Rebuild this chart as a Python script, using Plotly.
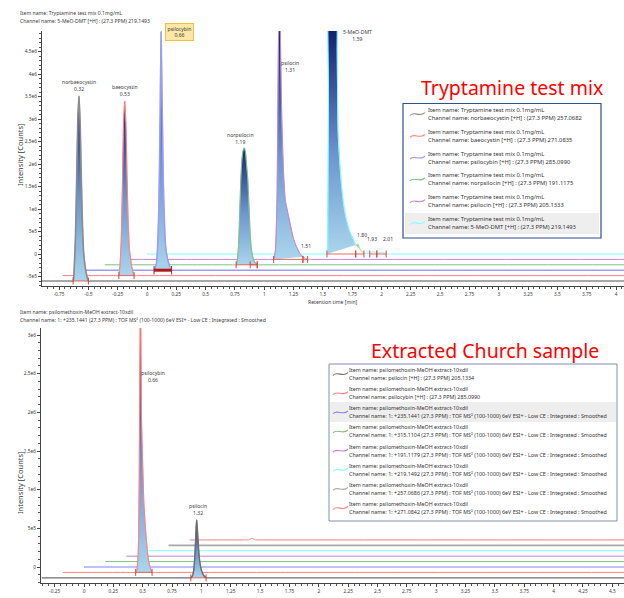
import plotly.graph_objects as go

W, H = 624, 598
FONT = "Noto Sans"
TXT = "#3a3a3a"

# ---------------- top panel data ----------------
top_item = "Item name: Tryptamine test mix 0.1mg/mL"
top_header_channel = "Channel name: 5-MeO-DMT [+H] : (27.3 PPM) 219.1493"
top_title = "Tryptamine test mix"
top_channels = [
    "Channel name: norbaeocystin [+H] : (27.3 PPM) 257.0682",
    "Channel name: baeocystin [+H] : (27.3 PPM) 271.0835",
    "Channel name: psilocybin [+H] : (27.3 PPM) 285.0990",
    "Channel name: norpsilocin [+H] : (27.3 PPM) 191.1175",
    "Channel name: psilocin [+H] : (27.3 PPM) 205.1333",
    "Channel name: 5-MeO-DMT [+H] : (27.3 PPM) 219.1493",
]
top_peak_names = ["norbaeocystin", "baeocystin", "psilocybin", "norpsilocin", "psilocin", "5-MeO-DMT"]
top_peak_rt = [0.32, 0.53, 0.66, 1.19, 1.31, 1.59]

norbaeocystin_t = [0, 0.24, 0.27, 0.28, 0.29, 0.30, 0.31, 0.32, 0.33, 0.34, 0.35, 0.36, 0.38, 0.40, 0.43, 5.0]
norbaeocystin_c = [0, 0, 0, 3.3e5, 1.0e6, 2.26e6, 3.6e6, 4.11e6, 3.5e6, 2.26e6, 1.23e6, 6.2e5, 2.0e5, 0, 0, 0]
baeocystin_t = [0, 0.45, 0.48, 0.49, 0.50, 0.51, 0.52, 0.53, 0.54, 0.55, 0.56, 0.57, 0.59, 0.61, 0.64, 5.0]
baeocystin_c = [0, 0, 0, 2.5e5, 8e5, 2.0e6, 3.4e6, 3.88e6, 3.4e6, 2.2e6, 1.2e6, 6e5, 2e5, 0, 0, 0]
psilocybin_t = [0, 0.57, 0.60, 0.62, 0.63, 0.64, 0.65, 0.66, 0.67, 0.68, 0.69, 0.70, 0.72, 0.75, 0.78, 5.0]
psilocybin_c = [0, 0, 0, 1.5e5, 5e5, 1.3e6, 3.0e6, 5.3e6, 3.6e6, 1.9e6, 1.0e6, 5e5, 2e5, 0, 0, 0]
norpsilocin_t = [0, 1.09, 1.12, 1.13, 1.14, 1.15, 1.16, 1.17, 1.18, 1.19, 1.20, 1.21, 1.22, 1.23, 1.24, 1.25,
                 1.27, 1.30, 1.33, 5.0]
norpsilocin_c = [0, 0, 0, 1e5, 4e5, 1.1e6, 1.9e6, 2.35e6, 2.55e6, 2.6e6, 2.5e6, 2.2e6, 1.9e6, 1.3e6, 7e5, 3.5e5,
                 1e5, 0, 0, 0]
psilocin_t = [0, 1.23, 1.26, 1.275, 1.285, 1.29, 1.295, 1.30, 1.31, 1.32, 1.33, 1.345, 1.36, 1.38, 1.40, 1.43,
              1.46, 1.49, 1.51, 1.53, 1.55, 1.58, 5.0]
psilocin_c = [0, 0, 0, 2e5, 9e5, 1.6e6, 3.1e6, 4.6e6, 6.5e6, 4.6e6, 3.1e6, 1.9e6, 1.3e6, 1.05e6, 8e5, 4.5e5,
              2.5e5, 1e5, 6e4, 2e4, 0, 0, 0]
meodmt_t = [0, 1.50, 1.535, 1.542, 1.548, 1.555, 1.59, 1.615, 1.622, 1.63, 1.645, 1.66, 1.68, 1.70, 1.73, 1.76,
            1.78, 1.80, 1.82, 1.85, 1.90, 1.93, 1.96, 2.01, 2.04, 2.08, 5.0]
meodmt_c = [0, 0, 0, 8e5, 3.5e6, 7e6, 7e6, 7e6, 4.5e6, 2.7e6, 2.0e6, 1.5e6, 1.05e6, 7.8e5, 5e5, 3.3e5,
            2.0e5, 2.2e5, 8e4, 2e4, 1e4, 5e4, 1e4, 4e4, 0, 0, 0]

top_t = [norbaeocystin_t, baeocystin_t, psilocybin_t, norpsilocin_t, psilocin_t, meodmt_t]
top_c = [norbaeocystin_c, baeocystin_c, psilocybin_c, norpsilocin_c, psilocin_c, meodmt_c]
# integrated peak windows (start, end) per channel
top_windows = [[(0.27, 0.40)], [(0.48, 0.61)], [(0.60, 0.75)], [(1.12, 1.30)], [(1.26, 1.51)], [(1.535, 1.78)]]
top_minor_windows = [[], [], [], [(1.24, 1.30)], [(1.51, 1.55)], [(1.78, 1.85), (1.90, 1.96), (1.96, 2.04)]]
top_minor_rt = [1.51, 1.80, 1.93, 2.01]
top_minor_channel = [4, 5, 5, 5]

top_xticks = [-0.75, -0.5, -0.25, 0, 0.25, 0.5, 0.75, 1, 1.25, 1.5, 1.75, 2, 2.25, 2.5, 2.75, 3, 3.25, 3.5, 3.75, 4]
top_xtext = ["-0.75", "-0.5", "-0.25", "0", "0.25", "0.5", "0.75", "1", "1.25", "1.5", "1.75", "2", "2.25",
             "2.5", "2.75", "3", "3.25", "3.5", "3.75", "4"]
top_yticks = [-5e5, 0, 5e5, 1e6, 1.5e6, 2e6, 2.5e6, 3e6, 3.5e6, 4e6, 4.5e6]
top_ytext = ["-5e5", "0", "5e5", "1e6", "1.5e6", "2e6", "2.5e6", "3e6", "3.5e6", "4e6", "4.5e6"]

# ---------------- bottom panel data ----------------
bot_item = "Item name: psilomethoxin-MeOH extract-10xdil"
bot_header_channel = ("Channel name: 1: +235.1441 (27.3 PPM) : TOF MS² (100-1000) 6eV ESI+ - Low CE : "
                      "Integrated : Smoothed")
bot_title = "Extracted Church sample"
bot_channels = [
    "Channel name: psilocin [+H] : (27.3 PPM) 205.1334",
    "Channel name: psilocybin [+H] : (27.3 PPM) 285.0990",
    "Channel name: 1: +235.1441 (27.3 PPM) : TOF MS² (100-1000) 6eV ESI+ - Low CE : Integrated : Smoothed",
    "Channel name: 1: +315.1104 (27.3 PPM) : TOF MS² (100-1000) 6eV ESI+ - Low CE : Integrated : Smoothed",
    "Channel name: 1: +191.1179 (27.3 PPM) : TOF MS² (100-1000) 6eV ESI+ - Low CE : Integrated : Smoothed",
    "Channel name: 1: +219.1492 (27.3 PPM) : TOF MS² (100-1000) 6eV ESI+ - Low CE : Integrated : Smoothed",
    "Channel name: 1: +257.0686 (27.3 PPM) : TOF MS² (100-1000) 6eV ESI+ - Low CE : Integrated : Smoothed",
    "Channel name: 1: +271.0842 (27.3 PPM) : TOF MS² (100-1000) 6eV ESI+ - Low CE : Integrated : Smoothed",
]
ext_psilocin_t = [0, 1.24, 1.27, 1.285, 1.295, 1.305, 1.315, 1.32, 1.325, 1.335, 1.345, 1.36, 1.38, 1.40, 1.43, 5.0]
ext_psilocin_c = [0, 0, 0, 3e4, 1e5, 3e5, 6.5e5, 7.5e5, 6.5e5, 4e5, 2.2e5, 1e5, 3e4, 0, 0, 0]
ext_psilocybin_t = [0, 0.59, 0.62, 0.63, 0.64, 0.645, 0.65, 0.655, 0.66, 0.665, 0.67, 0.68, 0.69, 0.70, 0.71,
                    0.72, 0.73, 0.745, 0.76, 0.79, 5.0]
ext_psilocybin_c = [0, 0, 0, 3e4, 2e5, 4.5e5, 1.2e6, 2.4e6, 3.6e6, 3.0e6, 2.0e6, 1.4e6, 9e5, 6.5e5, 4.5e5,
                    2.8e5, 1.5e5, 6e4, 0, 0, 0]
ext_235_t = [0, 5.0]
ext_235_c = [0, 0]
ext_315_t = [0, 5.0]
ext_315_c = [0, 0]
ext_191_t = [0, 5.0]
ext_191_c = [0, 0]
ext_219_t = [0, 5.0]
ext_219_c = [0, 0]
ext_257_t = [0, 5.0]
ext_257_c = [0, 0]
ext_271_t = [0, 0.47, 0.50, 0.53, 0.56, 0.59, 5.0]
ext_271_c = [0, 0, 0, 2e4, 0, 0, 0]

bot_t = [ext_psilocin_t, ext_psilocybin_t, ext_235_t, ext_315_t, ext_191_t, ext_219_t, ext_257_t, ext_271_t]
bot_c = [ext_psilocin_c, ext_psilocybin_c, ext_235_c, ext_315_c, ext_191_c, ext_219_c, ext_257_c, ext_271_c]
bot_windows = [[(1.27, 1.40)], [(0.62, 0.76)], [], [], [], [], [], []]
bot_peak_names = ["psilocin", "psilocybin"]
bot_peak_rt = [1.32, 0.66]

bot_xticks = [-0.25, 0, 0.25, 0.5, 0.75, 1, 1.25, 1.5, 1.75, 2, 2.25, 2.5, 2.75, 3, 3.25, 3.5, 3.75, 4, 4.25, 4.5]
bot_xtext = ["-0.25", "0", "0.25", "0.5", "0.75", "1", "1.25", "1.5", "1.75", "2", "2.25", "2.5", "2.75", "3",
             "3.25", "3.5", "3.75", "4", "4.25", "4.5"]
bot_yticks = [0, 5e5, 1e6, 1.5e6, 2e6, 2.5e6, 3e6]
bot_ytext = ["0", "5e5", "1e6", "1.5e6", "2e6", "2.5e6", "3e6"]

# ---------------- layout / style ----------------
TOP_DX = [-0.90, -0.72, -0.54, -0.36, -0.18, 0.0]
TOP_DY = [-6.0e5, -4.8e5, -3.6e5, -2.4e5, -1.2e5, 0.0]
TOP_COL = ["#8c8c8c", "#ff8080", "#9c9cf5", "#80c080", "#c088d0", "#80ffff"]
TOP_W = [1.6, 1, 1.5, 1, 1, 1]
BOT_DX = [-0.36, -0.18, 0.0, 0.18, 0.36, 0.54, 0.72, 0.90]
BOT_DY = [-1.4e5, -0.7e5, 0.0, 0.7e5, 1.4e5, 2.1e5, 2.8e5, 3.5e5]
BOT_COL = ["#6e6e6e", "#ff8080", "#8080ff", "#80c080", "#c080d0", "#80ffff", "#a8a8a8", "#ff8080"]
BOT_W = [1.4, 1, 1, 1, 1, 1, 1.6, 1]

TOP_XR = [(42 - 147) / 117.25, (624 - 147) / 117.25]
TOP_YR = [(254 - 286) * 22222, (254 - 31) * 22222]
BOT_XR = [(41 - 84) / 117.4, (624 - 84) / 117.4]
BOT_YR = [(567 - 583) / 77.33e-6, (567 - 328) / 77.33e-6]

GRAD = [[0, "#a9d5ec"], [0.45, "#6b95cf"], [1, "#15206e"]]
INT_RED = "#e0443a"
LBL = 5.1
TICK = 4.8


def PX(x):
    return x / W


def PY(y):
    return 1 - y / H


fig = go.Figure()


def add_panel(T, C, DX, DY, COL, LW, windows, minor_windows, xa, ya, ytop, sel=None):
    n = len(T)
    for i in reversed(range(n)):
        xs = [t + DX[i] for t in T[i]]
        ys = [c + DY[i] for c in C[i]]
        for (a, b) in windows[i]:
            idx = [k for k, t in enumerate(T[i]) if a <= t <= b]
            fx = [xs[k] for k in idx]
            fy = [ys[k] for k in idx]
            fig.add_trace(go.Scatter(
                x=fx, y=fy, mode="lines", fill="toself", xaxis=xa, yaxis=ya,
                line=dict(color=COL[i], width=0.6, shape="spline", smoothing=0.5),
                fillgradient=dict(type="vertical", colorscale=GRAD, start=DY[i], stop=min(max(fy), ytop)),
                hoverinfo="skip", showlegend=False))
        for j, (a, b) in enumerate(minor_windows[i]):
            idx = [k for k, t in enumerate(T[i]) if a <= t <= b]
            if j == 0 and i == n - 1 and xa == "x":
                fig.add_trace(go.Scatter(
                    x=[xs[k] for k in idx], y=[ys[k] for k in idx], mode="lines", fill="toself",
                    fillcolor="#f5a623", xaxis=xa, yaxis=ya,
                    line=dict(color="#f5a623", width=0.5), hoverinfo="skip", showlegend=False))
        fig.add_trace(go.Scatter(
            x=xs, y=ys, mode="lines", xaxis=xa, yaxis=ya,
            line=dict(color=COL[i], width=LW[i], shape="spline", smoothing=0.5),
            hoverinfo="skip", showlegend=False))
        for (a, b) in windows[i] + minor_windows[i]:
            thick = sel is not None and i == sel
            fig.add_trace(go.Scatter(
                x=[a + DX[i], b + DX[i]], y=[DY[i], DY[i]], mode="lines+markers", xaxis=xa, yaxis=ya,
                line=dict(color="#b01818" if thick else INT_RED, width=3 if thick else 0.8),
                marker=dict(symbol="line-ns-open", size=5 if not thick else 6,
                            line=dict(color="#b01818" if thick else INT_RED, width=1)),
                hoverinfo="skip", showlegend=False))


add_panel(top_t, top_c, TOP_DX, TOP_DY, TOP_COL, TOP_W, top_windows, top_minor_windows, "x", "y", TOP_YR[1], sel=2)
add_panel(bot_t, bot_c, BOT_DX, BOT_DY, BOT_COL, BOT_W, bot_windows, [[]] * 8, "x2", "y2", BOT_YR[1])

ann = []
shapes = []
small = dict(family=FONT, size=LBL, color=TXT)

# peak labels (top)
TOP_LABEL_SHIFT = [(0, 2, "bottom"), (0, 2, "bottom"), (18, 0, "middle"), (-4, 1, "bottom"), (11, -36, "middle"),
                   (24, -4.5, "middle")]
for i, (name, rt) in enumerate(zip(top_peak_names, top_peak_rt)):
    ax_ = rt + TOP_DX[i]
    ay_ = min(max(top_c[i]) + TOP_DY[i], TOP_YR[1])
    xs_, ys_, yan = TOP_LABEL_SHIFT[i]
    a = dict(x=ax_, y=ay_, xref="x", yref="y", text=f"{name}<br>{rt:.2f}", showarrow=False,
             xshift=xs_, yshift=ys_, xanchor="center", yanchor=yan, font=small, align="center")
    if i == 2:
        a.update(bgcolor="#fde7a6", bordercolor="#f0c040", borderwidth=1, borderpad=1.5)
    ann.append(a)

TOP_MINOR_SHIFT = [(3, 8), (4, 14), (-1.5, 10), (5, 10)]
for rt, ch, (xs_, ys_) in zip(top_minor_rt, top_minor_channel, TOP_MINOR_SHIFT):
    ann.append(dict(x=rt + TOP_DX[ch], y=TOP_DY[ch], xref="x", yref="y", text=f"{rt:.2f}", showarrow=False,
                    xshift=xs_, yshift=ys_, xanchor="center", yanchor="bottom", font=small))

# peak labels (bottom)
BOT_LABEL_SHIFT = [(1, 2, "bottom"), (13, -48.5, "middle")]
for i, (name, rt) in enumerate(zip(bot_peak_names, bot_peak_rt)):
    ax_ = rt + BOT_DX[i]
    ay_ = min(max(bot_c[i]) + BOT_DY[i], BOT_YR[1])
    xs_, ys_, yan = BOT_LABEL_SHIFT[i]
    ann.append(dict(x=ax_, y=ay_, xref="x2", yref="y2", text=f"{name}<br>{rt:.2f}", showarrow=False,
                    xshift=xs_, yshift=ys_, xanchor="center", yanchor=yan, font=small, align="center"))

# headers
for txt, y in [(top_item, 13), (top_header_channel, 21), (bot_item, 312), (bot_header_channel, 320)]:
    ann.append(dict(x=PX(18), y=PY(y), xref="paper", yref="paper", text=txt, showarrow=False,
                    xanchor="left", yanchor="middle", font=small))

# axis titles
ytitle_font = dict(family=FONT, size=7.5, color=TXT)
for x, y, txt, ang, f in [(20, 155, "Intensity [Counts]", -90, ytitle_font),
                          (20, 483, "Intensity [Counts]", -90, ytitle_font),
                          (333, 302, "Retention time [min]", 0, small),
                          (332, 600, "Retention time [min]", 0, small)]:
    ann.append(dict(x=PX(x), y=PY(y), xref="paper", yref="paper", text=txt, showarrow=False,
                    textangle=ang, font=f, xanchor="center", yanchor="middle"))

# red titles
ann.append(dict(x=PX(512), y=PY(87), xref="paper", yref="paper", text=top_title, showarrow=False,
                xanchor="center", yanchor="middle", font=dict(family=FONT, size=19.5, color="#ff0000")))
ann.append(dict(x=PX(485), y=PY(350), xref="paper", yref="paper", text=bot_title, showarrow=False,
                xanchor="center", yanchor="middle", font=dict(family=FONT, size=19.5, color="#ff0000")))


def wave(x0, yc, color):
    pts = [(x0, yc + 1.5), (x0 + 4, yc - 3.5), (x0 + 10, yc + 4), (x0 + 15, yc - 1.5)]
    s = [f"{PX(x):.5f},{PY(y):.5f}" for x, y in pts]
    return dict(type="path", xref="paper", yref="paper", path=f"M {s[0]} C {s[1]} {s[2]} {s[3]}",
                line=dict(color=color, width=1.1))


top_leg_font = dict(family=FONT, size=5.8, color="#333333")
bot_leg_font = dict(family=FONT, size=5.35, color="#333333")
# top legend
shapes.append(dict(type="rect", xref="paper", yref="paper", x0=PX(405), x1=PX(599), y0=PY(213), y1=PY(234),
                   fillcolor="#eeeeee", line=dict(width=0), layer="below"))
shapes.append(dict(type="rect", xref="paper", yref="paper", x0=PX(403), x1=PX(601), y0=PY(103.5), y1=PY(238),
                   line=dict(color="#2f4f8f", width=1.2)))
for i, ch in enumerate(top_channels):
    y1 = 110 + 21.8 * i
    shapes.append(wave(410, y1 + 4, TOP_COL[i]))
    ann.append(dict(x=PX(426), y=PY(y1), xref="paper", yref="paper", text=top_item, showarrow=False,
                    xanchor="left", yanchor="middle", font=top_leg_font))
    ann.append(dict(x=PX(426), y=PY(y1 + 8), xref="paper", yref="paper", text=ch, showarrow=False,
                    xanchor="left", yanchor="middle", font=top_leg_font))

# bottom legend
shapes.append(dict(type="rect", xref="paper", yref="paper", x0=PX(330), x1=PX(616), y0=PY(402), y1=PY(422),
                   fillcolor="#eeeeee", line=dict(width=0), layer="below"))
shapes.append(dict(type="rect", xref="paper", yref="paper", x0=PX(329), x1=PX(617), y0=PY(364), y1=PY(521),
                   line=dict(color="#8090b0", width=1)))
for i, ch in enumerate(bot_channels):
    y1 = 370 + 19.14 * i
    shapes.append(wave(333, y1 + 4, BOT_COL[i]))
    ann.append(dict(x=PX(347), y=PY(y1), xref="paper", yref="paper", text=bot_item, showarrow=False,
                    xanchor="left", yanchor="middle", font=bot_leg_font))
    ann.append(dict(x=PX(347), y=PY(y1 + 8), xref="paper", yref="paper", text=ch, showarrow=False,
                    xanchor="left", yanchor="middle", font=bot_leg_font))

axis_common = dict(showgrid=False, zeroline=False, showline=True, linecolor="#444444", linewidth=1,
                   ticks="outside", ticklen=3, tickwidth=1, tickcolor="#444444",
                   tickfont=dict(family=FONT, size=TICK, color=TXT), tickmode="array")
minor_x = dict(tickmode="linear", tick0=0, dtick=0.05, ticks="outside", ticklen=2, tickcolor="#555555")
minor_y = dict(tickmode="linear", tick0=0, dtick=1e5, ticks="outside", ticklen=2, tickcolor="#555555")

fig.update_layout(
    width=W, height=H, margin=dict(l=0, r=0, t=0, b=0), autosize=False,
    paper_bgcolor="white", plot_bgcolor="white", showlegend=False,
    xaxis=dict(domain=[PX(42), 1], range=TOP_XR, anchor="y", tickvals=top_xticks, ticktext=top_xtext,
               minor=minor_x, **axis_common),
    yaxis=dict(domain=[PY(286), PY(31)], range=TOP_YR, anchor="x", tickvals=top_yticks, ticktext=top_ytext,
               minor=minor_y, **axis_common),
    xaxis2=dict(domain=[PX(41), 1], range=BOT_XR, anchor="y2", tickvals=bot_xticks, ticktext=bot_xtext,
                minor=minor_x, **axis_common),
    yaxis2=dict(domain=[PY(583), PY(328)], range=BOT_YR, anchor="x2", tickvals=bot_yticks, ticktext=bot_ytext,
                minor=minor_y, **axis_common),
    annotations=ann, shapes=shapes,
)

fig.write_html("out.html", config={"displayModeBar": False},
               post_script="document.body.style.margin='0px';document.body.style.overflow='hidden';")
